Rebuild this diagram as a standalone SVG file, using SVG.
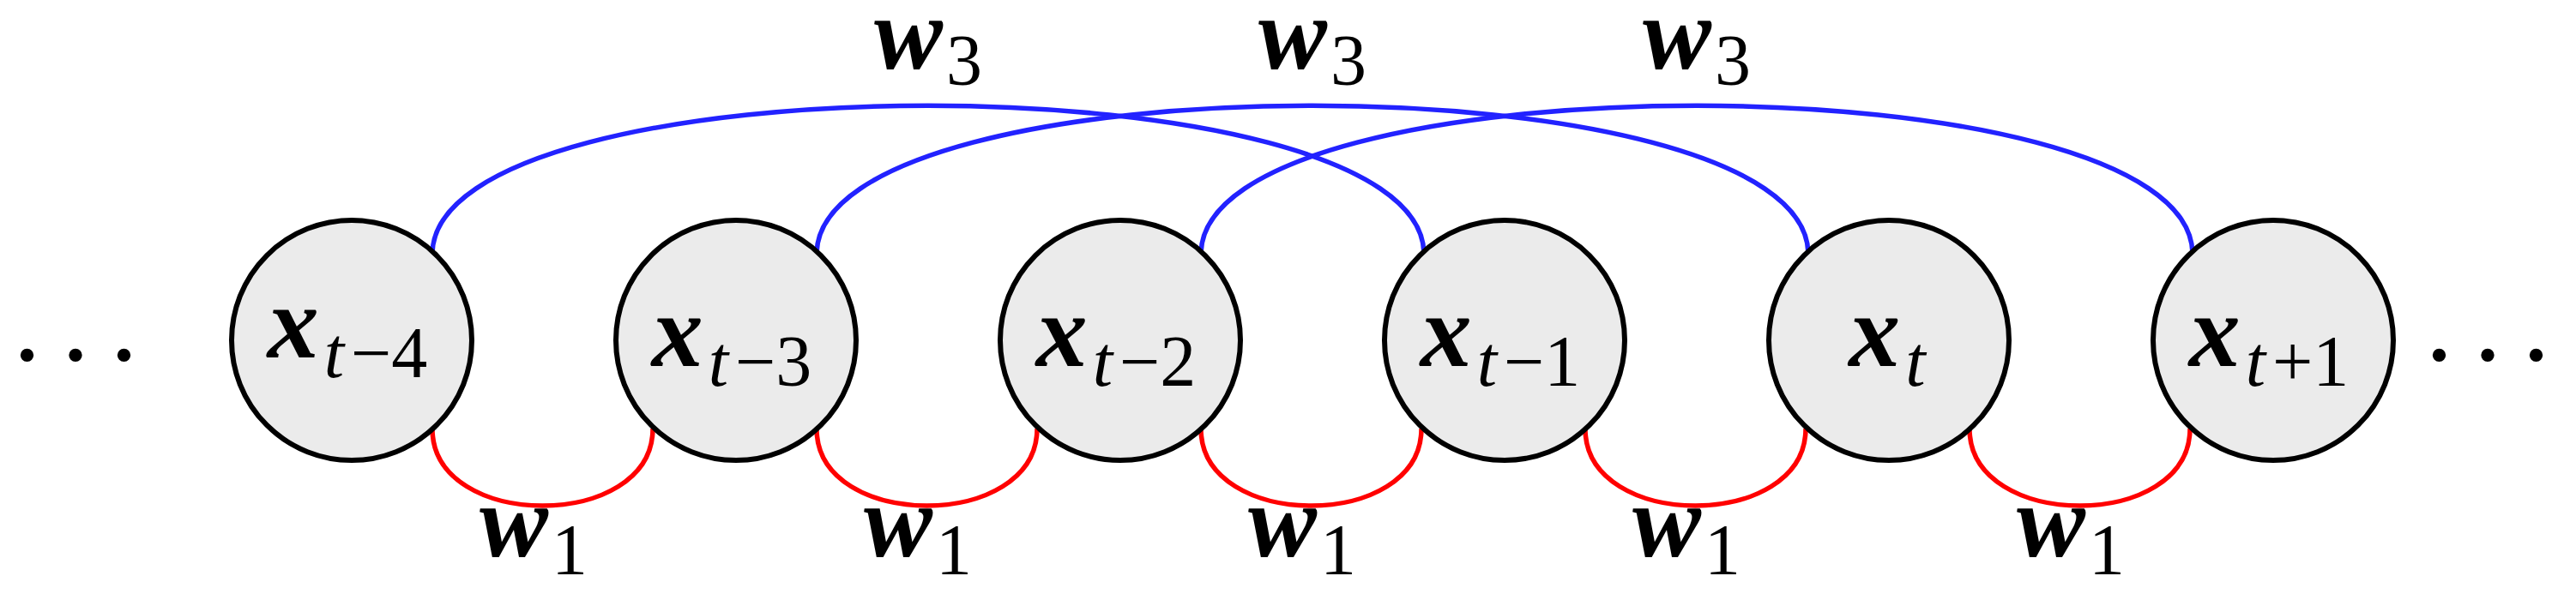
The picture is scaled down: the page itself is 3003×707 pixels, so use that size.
<svg xmlns="http://www.w3.org/2000/svg" width="3003" height="707" viewBox="0 0 3003 707">
<style>
.n{fill:#ebebeb;stroke:#000;stroke-width:6}
.b{fill:none;stroke:#2222ff;stroke-width:5.5}
.r{fill:none;stroke:#ff0000;stroke-width:5.5}
text{font-family:"Liberation Serif","DejaVu Serif",serif;fill:#000}
.v{font-weight:bold;font-style:italic;font-size:120px}
.s{font-size:84px}
.i{font-style:italic}
</style>
<rect width="3003" height="707" fill="#fff"/>
<g id="connectors">
<path class="b" d="M504,295 C510,66 1654,66 1660,295"/>
<path class="b" d="M952,295 C958,66 2102,66 2108,295"/>
<path class="b" d="M1400,295 C1406,66 2550,66 2556,295"/>
<path class="r" d="M504,500 C504,620 761,620 761,500"/>
<path class="r" d="M952,500 C952,620 1209,620 1209,500"/>
<path class="r" d="M1400,500 C1400,620 1657,620 1657,500"/>
<path class="r" d="M1848,500 C1848,620 2105,620 2105,500"/>
<path class="r" d="M2296,500 C2296,620 2553,620 2553,500"/>
</g>
<g id="n1"><circle class="n" cx="410" cy="397" r="140"/><text x="405" y="417" text-anchor="middle"><tspan class="v">x</tspan><tspan class="s i" dx="6" dy="23">t</tspan><tspan class="s" dx="8">−4</tspan></text></g>
<g id="n2"><circle class="n" cx="858" cy="397" r="140"/><text x="853" y="427" text-anchor="middle"><tspan class="v">x</tspan><tspan class="s i" dx="6" dy="23">t</tspan><tspan class="s" dx="8">−3</tspan></text></g>
<g id="n3"><circle class="n" cx="1306" cy="397" r="140"/><text x="1301" y="427" text-anchor="middle"><tspan class="v">x</tspan><tspan class="s i" dx="6" dy="23">t</tspan><tspan class="s" dx="8">−2</tspan></text></g>
<g id="n4"><circle class="n" cx="1754" cy="397" r="140"/><text x="1749" y="427" text-anchor="middle"><tspan class="v">x</tspan><tspan class="s i" dx="6" dy="23">t</tspan><tspan class="s" dx="8">−1</tspan></text></g>
<g id="n5"><circle class="n" cx="2202" cy="397" r="140"/><text x="2200" y="427" text-anchor="middle"><tspan class="v">x</tspan><tspan class="s i" dx="6" dy="23">t</tspan></text></g>
<g id="n6"><circle class="n" cx="2650" cy="397" r="140"/><text x="2645" y="427" text-anchor="middle"><tspan class="v">x</tspan><tspan class="s i" dx="6" dy="23">t</tspan><tspan class="s" dx="8">+1</tspan></text></g>
<g id="labels">
<text x="622" y="649" text-anchor="middle"><tspan class="v">w</tspan><tspan class="s" dx="4" dy="21">1</tspan></text>
<text x="1070" y="649" text-anchor="middle"><tspan class="v">w</tspan><tspan class="s" dx="4" dy="21">1</tspan></text>
<text x="1518" y="649" text-anchor="middle"><tspan class="v">w</tspan><tspan class="s" dx="4" dy="21">1</tspan></text>
<text x="1966" y="649" text-anchor="middle"><tspan class="v">w</tspan><tspan class="s" dx="4" dy="21">1</tspan></text>
<text x="2414" y="649" text-anchor="middle"><tspan class="v">w</tspan><tspan class="s" dx="4" dy="21">1</tspan></text>
<text x="1082" y="80" text-anchor="middle"><tspan class="v">w</tspan><tspan class="s" dx="4" dy="19">3</tspan></text>
<text x="1530" y="80" text-anchor="middle"><tspan class="v">w</tspan><tspan class="s" dx="4" dy="19">3</tspan></text>
<text x="1978" y="80" text-anchor="middle"><tspan class="v">w</tspan><tspan class="s" dx="4" dy="19">3</tspan></text>
<text x="100" y="420" text-anchor="middle" style="font-size:130px;letter-spacing:24px">...</text>
<text x="2912" y="420" text-anchor="middle" style="font-size:130px;letter-spacing:24px">...</text>
</g>
</svg>
